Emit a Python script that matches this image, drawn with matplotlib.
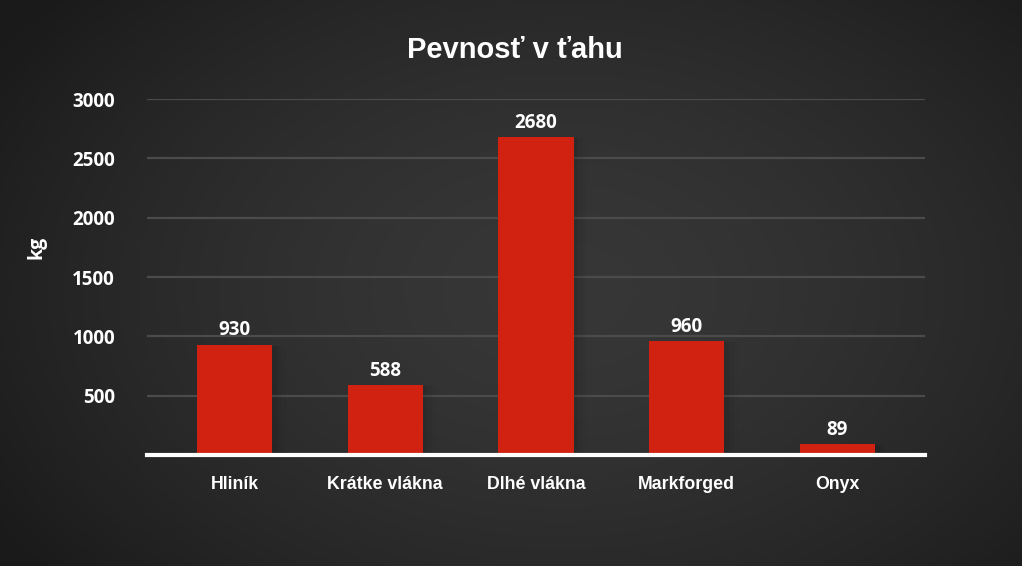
import numpy as np
import matplotlib
matplotlib.use("Agg")
import matplotlib.pyplot as plt

categories = ["Hliník", "Krátke vlákna", "Dlhé vlákna", "Markforged", "Onyx"]
values = [930, 588, 2680, 960, 89]
yticks = [500, 1000, 1500, 2000, 2500, 3000]

title = "Pevnosť v ťahu"
ylabel = "kg"

BAR_COLOR = "#d12211"
HEAD = ["Liberation Sans", "DejaVu Sans"]
SANS = ["Open Sans", "DejaVu Sans"]

W, H = 1022, 566
fig = plt.figure(figsize=(W / 100, H / 100), dpi=100)

# radial dark background, lighter towards the middle
bg = fig.add_axes([0, 0, 1, 1], zorder=-10)
yy, xx = np.mgrid[0:H, 0:W]
r = np.sqrt(((xx - 560) / 620.0) ** 2 + ((yy - 290) / 420.0) ** 2)
shade = np.clip(0.215 - 0.10 * r ** 1.6, 0.105, 0.215)
bg.imshow(np.dstack([shade] * 3), extent=[0, 1, 0, 1], aspect="auto")
bg.set_axis_off()

ax = fig.add_axes([147 / W, 1 - 455 / H, (925 - 147) / W, (455 - 99) / H])
ax.set_facecolor("none")
x = np.arange(len(categories))

# faint shadow under each bar
for xi, v in zip(x, values):
    for k, a in enumerate([0.06, 0.04, 0.02]):
        ax.bar(xi + 0.02 * (k + 1), v, width=0.5 + 0.02 * (k + 1), bottom=-8,
               color="black", alpha=a, zorder=1)
ax.bar(x, values, width=0.5, color=BAR_COLOR, zorder=3)

for xi, v in zip(x, values):
    ax.annotate(f"{v}", (xi, v), xytext=(0, 3), textcoords="offset points",
                ha="center", va="bottom", color="white", fontsize=13.5,
                fontweight="bold", family=SANS, zorder=5)

ax.set_xlim(-0.58, 4.58)
ax.set_ylim(0, 3000)
ax.set_yticks(yticks)
ax.set_yticklabels([str(t) for t in yticks], family=SANS, fontweight="bold",
                   fontsize=13.5, color="white")
ax.grid(axis="y", color="#4b4b4b", linewidth=1.6, zorder=0)
ax.set_axisbelow(True)
ax.tick_params(axis="y", length=0, pad=23)
ax.tick_params(axis="x", length=0, pad=15)
ax.set_xticks(x)
ax.set_xticklabels(categories, family=HEAD, fontweight="bold", fontsize=12.8,
                   color="white")
for s in ["top", "right", "left"]:
    ax.spines[s].set_visible(False)
ax.spines["bottom"].set_color("white")
ax.spines["bottom"].set_linewidth(3)
ax.spines["bottom"].set_zorder(6)

fig.text(37 / W, 1 - 247 / H, ylabel, rotation=90, ha="center", va="center",
         color="white", fontsize=14, fontweight="bold", family=SANS)
fig.text(515 / W, 1 - 50 / H, title, ha="center", va="center", color="white",
         fontsize=21, fontweight="bold", family=HEAD)

fig.savefig("out.png", dpi=100)
